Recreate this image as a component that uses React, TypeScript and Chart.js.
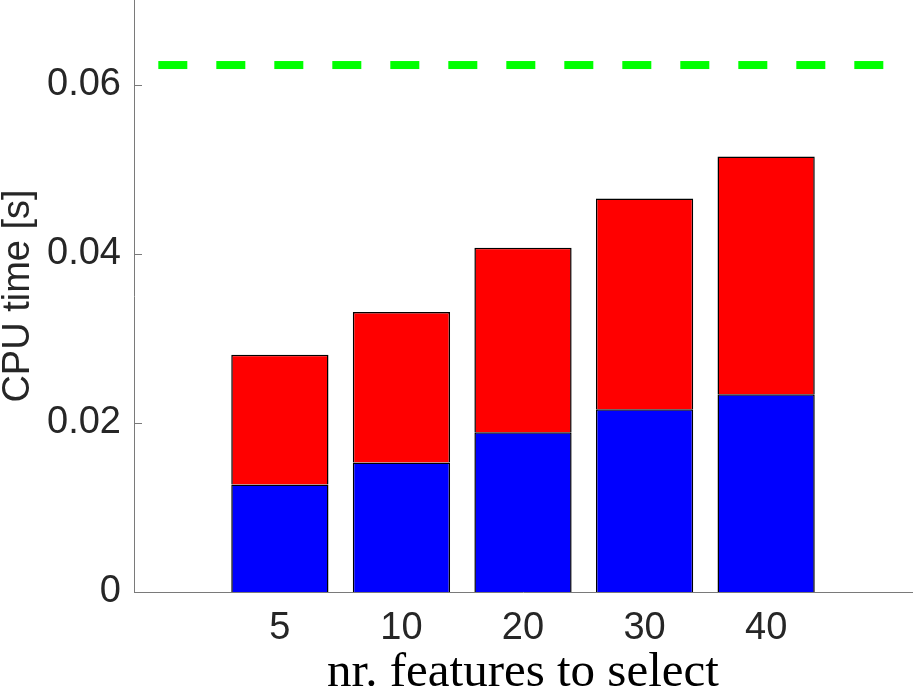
import { Chart, registerables, type ChartConfiguration, type Plugin } from "chart.js";
import { useEffect, useRef } from "react";

Chart.register(...registerables);

// x positions 1..5, labelled with the number of features
const featureLabels = ["5", "10", "20", "30", "40"];
const firstPart = [0.0127, 0.01532, 0.01888, 0.02161, 0.02338];
const secondPart = [0.01534, 0.01779, 0.02182, 0.02493, 0.02811];
const referenceLevel = 0.06231;
const referenceSpan = [0, 6];
const yTicks = [0, 0.02, 0.04, 0.06];

const axisColor = "#7a7a7a";
const textColor = "#262626";

// MATLAB-style tick marks pointing into the plot
const innerTicks: Plugin<"bar"> = {
  id: "innerTicks",
  afterDraw(chart) {
    const { ctx, chartArea, scales } = chart;
    const y = scales.y;
    ctx.save();
    ctx.strokeStyle = axisColor;
    ctx.lineWidth = 1;
    for (const v of yTicks) {
      const py = Math.round(y.getPixelForValue(v)) + 0.5;
      ctx.beginPath();
      ctx.moveTo(chartArea.left, py);
      ctx.lineTo(chartArea.left + 8, py);
      ctx.stroke();
    }
    ctx.restore();
  },
};

const config: ChartConfiguration<"bar"> = {
  type: "bar",
  data: {
    datasets: [
      {
        label: "part 1",
        data: firstPart.map((v, i) => ({ x: i + 1, y: v })),
        backgroundColor: "#0000ff",
        borderColor: "#000000",
        borderWidth: 1.5,
        barPercentage: 0.8,
        categoryPercentage: 1,
        stack: "bars",
      },
      {
        label: "part 2",
        data: secondPart.map((v, i) => ({ x: i + 1, y: v })),
        backgroundColor: "#ff0000",
        borderColor: "#000000",
        borderWidth: 1.5,
        barPercentage: 0.8,
        categoryPercentage: 1,
        stack: "bars",
      },
      {
        type: "line",
        label: "reference",
        data: referenceSpan.map((x) => ({ x, y: referenceLevel })),
        borderColor: "#00ff00",
        borderWidth: 8,
        borderDash: [29, 29],
        borderCapStyle: "butt",
        pointRadius: 0,
        stack: "ref",
      } as any,
    ],
  },
  options: {
    animation: false,
    responsive: true,
    maintainAspectRatio: false,
    layout: { padding: { left: 0, right: 1, top: 0, bottom: 0 } },
    plugins: {
      legend: { display: false },
      tooltip: { enabled: false },
    },
    scales: {
      x: {
        type: "linear",
        min: -0.2,
        max: 6.2,
        offset: false,
        stacked: true,
        grid: { display: false, drawTicks: false },
        border: { display: true, color: axisColor, width: 1 },
        afterBuildTicks: (scale) => {
          scale.ticks = featureLabels.map((_, i) => ({ value: i + 1 }));
        },
        afterFit: (scale) => {
          scale.height = 99;
          scale.paddingLeft = 0;
          scale.paddingRight = 0;
        },
        ticks: {
          padding: 14,
          maxRotation: 0,
          autoSkip: false,
          color: textColor,
          font: { family: "'Liberation Sans', Arial, sans-serif", size: 38 },
          callback: (value) => featureLabels[Number(value) - 1] ?? "",
        },
        title: {
          display: true,
          text: "nr. features to select",
          color: "#000000",
          padding: 0,
          font: { family: "'Liberation Serif', 'Times New Roman', serif", size: 49, lineHeight: 0.74 },
        },
      },
      y: {
        type: "linear",
        min: 0,
        max: 0.07,
        stacked: true,
        grid: { display: false, drawTicks: false },
        border: { display: true, color: axisColor, width: 1 },
        afterBuildTicks: (scale) => {
          scale.ticks = yTicks.map((v) => ({ value: v }));
        },
        afterFit: (scale) => {
          scale.width = 134;
          scale.paddingTop = 0;
          scale.paddingBottom = 0;
        },
        ticks: {
          padding: 13,
          color: textColor,
          font: { family: "'Liberation Sans', Arial, sans-serif", size: 38 },
          callback: (value) => (Number(value) === 0 ? "0" : Number(value).toFixed(2)),
        },
        title: {
          display: true,
          text: "CPU time [s]",
          color: textColor,
          padding: 0,
          font: { family: "'Liberation Sans', Arial, sans-serif", size: 38, lineHeight: 1 },
        },
      },
    },
  },
  plugins: [innerTicks],
};

/** CPU time per number of selected features, as stacked bars. */
export default function App() {
  const canvasRef = useRef<HTMLCanvasElement>(null);

  useEffect(() => {
    if (!canvasRef.current) {
      return undefined;
    }
    const chart = new Chart(canvasRef.current, config);
    return () => chart.destroy();
  }, []);

  return (
    <div style={{ position: "absolute", left: 0, top: 0, width: 913, height: 691, background: "#fff" }}>
      <canvas ref={canvasRef} />
    </div>
  );
}
